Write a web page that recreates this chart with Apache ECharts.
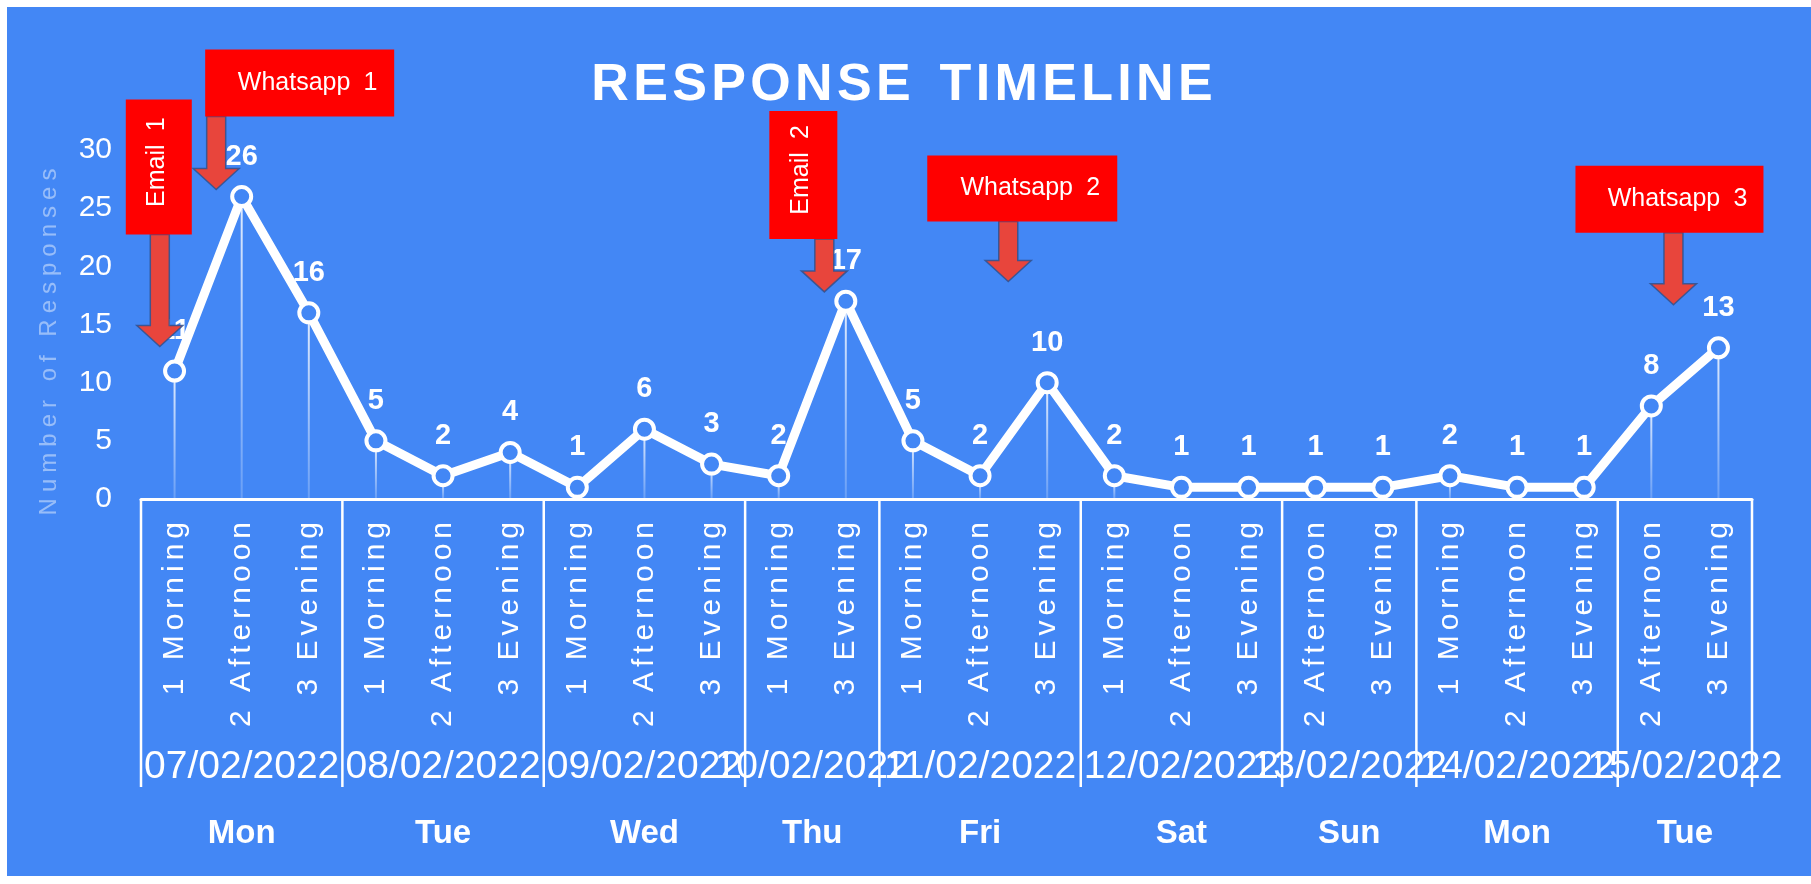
<!DOCTYPE html>
<html lang="en">
<head>
    <meta charset="UTF-8">
    <title>Response Timeline</title>
    <script src="https://cdnjs.cloudflare.com/ajax/libs/echarts/6.0.0/echarts.min.js"></script>
    <style>
        html, body { margin: 0; padding: 0; background: #fff; }
        #chart { position: absolute; left: 7px; top: 7px; width: 1804px; height: 869px; }
    </style>
</head>
<body>
<div id="chart"></div>

<script>
    // data
    var slots = ['1 Morning', '2 Afternoon', '3 Evening', '1 Morning', '2 Afternoon', '3 Evening',
        '1 Morning', '2 Afternoon', '3 Evening', '1 Morning', '3 Evening',
        '1 Morning', '2 Afternoon', '3 Evening', '1 Morning', '2 Afternoon', '3 Evening',
        '2 Afternoon', '3 Evening', '1 Morning', '2 Afternoon', '3 Evening', '2 Afternoon', '3 Evening'];
    var responses = [11, 26, 16, 5, 2, 4, 1, 6, 3, 2, 17, 5, 2, 10, 2, 1, 1, 1, 1, 2, 1, 1, 8, 13];
    var dates = ['07/02/2022', '08/02/2022', '09/02/2022', '10/02/2022', '11/02/2022',
        '12/02/2022', '13/02/2022', '14/02/2022', '15/02/2022'];
    var days = ['Mon', 'Tue', 'Wed', 'Thu', 'Fri', 'Sat', 'Sun', 'Mon', 'Tue'];
    var slotsPerDay = [3, 3, 3, 2, 3, 3, 2, 3, 2];

    // callouts: text, slot they point at, value where the arrow tip sits
    var notes = ['Email 1', 'Whatsapp 1', 'Email 2', 'Whatsapp 2', 'Whatsapp 3'];
    var noteSlot = [0, 1, 10, 12, 22];
    var noteTip = [13.1, 26.6, 17.8, 18.7, 16.7];

    // callout layout (pixels / fractions of a slot)
    var noteLayout = [
        {vertical: true, shift: -0.22, w: 66, h: 135, dx: -34, gap: 112},
        {vertical: false, shift: -0.38, w: 189, h: 67, dx: -11, gap: 73},
        {vertical: true, shift: -0.32, w: 68, h: 128, dx: -55, gap: 53},
        {vertical: false, shift: 0.42, w: 190, h: 66, dx: -81, gap: 60},
        {vertical: false, shift: 0.33, w: 188, h: 67, dx: -98, gap: 72}
    ];

    var FONT = '"Liberation Sans", Arial, sans-serif';
    var BLUE = '#4387F5';

    function spaced(s, sep) {
        return Array.from(s).join(sep);
    }

    // day groups as [firstSlot, lastSlot, groupIndex]
    var groups = [];
    var start = 0;
    slotsPerDay.forEach(function (n, i) {
        groups.push([start, start + n - 1, i]);
        start += n;
    });

    function renderGroup(params, api) {
        var i = api.value(2);
        var band = api.size([1, 0])[0];
        var p0 = api.coord([api.value(0), 0]);
        var p1 = api.coord([api.value(1), 0]);
        var x0 = p0[0] - band / 2;
        var x1 = p1[0] + band / 2;
        var y = p0[1];
        var line = {stroke: '#fff', lineWidth: 2.5};
        var children = [
            {type: 'line', shape: {x1: x0, y1: y, x2: x0, y2: y + 288}, style: line},
            {
                type: 'text', x: (x0 + x1) / 2, y: y + 268,
                style: {text: dates[i], fill: '#fff', font: '39px ' + FONT, align: 'center', verticalAlign: 'middle'}
            },
            {
                type: 'text', x: (x0 + x1) / 2, y: y + 335,
                style: {text: days[i], fill: '#fff', font: 'bold 33px ' + FONT, align: 'center', verticalAlign: 'middle'}
            }
        ];
        if (i === groups.length - 1) {
            children.push({type: 'line', shape: {x1: x1, y1: y, x2: x1, y2: y + 288}, style: line});
        }
        return {type: 'group', children: children};
    }

    function renderNote(params, api) {
        var i = api.value(2);
        var L = noteLayout[i];
        var band = api.size([1, 0])[0];
        var tip = api.coord([api.value(0), api.value(1)]);
        var ax = tip[0] + L.shift * band;
        var ty = tip[1];
        var bx = ax + L.dx;
        var bBottom = ty - L.gap;
        var bTop = bBottom - L.h;
        var headLen = 21, headW = 23, shaftW = 9.5;
        var arrow = [
            [ax - shaftW, bBottom], [ax + shaftW, bBottom], [ax + shaftW, ty - headLen],
            [ax + headW, ty - headLen], [ax, ty], [ax - headW, ty - headLen], [ax - shaftW, ty - headLen]
        ];
        var cx = bx + L.w / 2;
        var cy = bTop + L.h / 2;
        return {
            type: 'group',
            children: [
                {
                    type: 'polygon', shape: {points: arrow},
                    style: {fill: '#E8453C', stroke: 'rgba(47,82,143,0.85)', lineWidth: 1.5}
                },
                {
                    type: 'rect', shape: {x: bx, y: bTop, width: L.w, height: L.h},
                    style: {fill: '#FF0000'}
                },
                {
                    type: 'text',
                    x: L.vertical ? cx - 2 : cx + 8,
                    y: L.vertical ? cy - 5 : cy,
                    rotation: L.vertical ? Math.PI / 2 : 0,
                    style: {
                        text: notes[i].replace(' ', '\u2005 '), fill: '#fff', font: '25px ' + FONT,
                        align: 'center', verticalAlign: 'middle'
                    }
                }
            ]
        };
    }

    var chart = echarts.init(document.getElementById('chart'));

    var option = {
        backgroundColor: BLUE,
        animation: false,
        textStyle: {fontFamily: FONT},
        graphic: [{
            type: 'text', x: 895, y: 79,
            style: {
                text: spaced('RESPONSE', '\u200A') + '  ' + spaced('TIMELINE', '\u200A'),
                fill: '#fff', font: 'bold 52px ' + FONT, align: 'center', verticalAlign: 'middle'
            }
        }, {
            type: 'text', x: 42, y: 335, rotation: Math.PI / 2,
            style: {
                text: spaced('Number of Responses', '\u2005'),
                fill: 'rgba(255,255,255,0.45)', font: '24px ' + FONT, align: 'center', verticalAlign: 'middle'
            }
        }],
        grid: {left: 134, right: 59, top: 143, bottom: 377},
        xAxis: {
            type: 'category',
            data: slots,
            axisLine: {lineStyle: {color: '#fff', width: 3}},
            axisTick: {show: false},
            axisLabel: {
                rotate: 90, interval: 0, margin: 23, color: '#fff', fontSize: 30,
                formatter: function (v) { return spaced(v, '\u2006'); }
            }
        },
        yAxis: {
            type: 'value',
            min: 0, max: 30, interval: 5,
            axisLine: {show: false},
            axisTick: {show: false},
            splitLine: {show: false},
            axisLabel: {color: '#fff', fontSize: 30, margin: 29}
        },
        series: [
            {
                // drop lines
                type: 'bar',
                data: responses,
                barWidth: 2,
                silent: true,
                z: 1,
                itemStyle: {
                    color: new echarts.graphic.LinearGradient(0, 0, 0, 1, [
                        {offset: 0, color: 'rgba(255,255,255,0.85)'},
                        {offset: 1, color: 'rgba(255,255,255,0.2)'}
                    ])
                }
            },
            {
                type: 'line',
                data: responses,
                z: 3,
                symbol: 'circle',
                symbolSize: 19,
                lineStyle: {color: '#fff', width: 9},
                itemStyle: {color: BLUE, borderColor: '#fff', borderWidth: 4},
                label: {
                    show: true, position: 'top', distance: 14,
                    color: '#fff', fontSize: 29, fontWeight: 'bold'
                }
            },
            {
                type: 'custom',
                data: groups,
                encode: {x: [0, 1], y: -1},
                renderItem: renderGroup,
                silent: true,
                z: 2
            },
            {
                type: 'custom',
                data: noteSlot.map(function (s, i) { return [s, noteTip[i], i]; }),
                encode: {x: 0, y: 1},
                renderItem: renderNote,
                silent: true,
                z: 10
            }
        ]
    };

    chart.setOption(option);
</script>
</body>
</html>
